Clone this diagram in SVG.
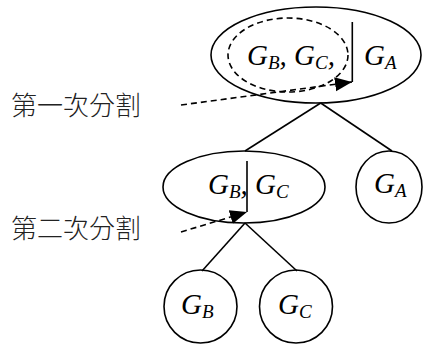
<svg xmlns="http://www.w3.org/2000/svg" width="423" height="345" viewBox="0 0 423 345">
  <style>
    .shape { fill: none; stroke: #000; stroke-width: 1.6; }
    .dash { fill: none; stroke: #000; stroke-width: 1.6; stroke-dasharray: 6 4; }
    .edge { fill: none; stroke: #000; stroke-width: 1.6; }
    .math { font-family: "Liberation Serif", "Times New Roman", serif; font-style: italic; font-size: 29px; fill: #000; }
    .sub { font-size: 19px; }
    .label { font-family: "Liberation Sans", "Noto Sans CJK TC", "Noto Sans CJK SC", sans-serif; font-size: 26px; font-weight: 300; fill: #222; }
  </style>
  <defs>
    <marker id="tri" markerUnits="userSpaceOnUse" markerWidth="18" markerHeight="16" refX="17" refY="8" orient="auto">
      <path d="M0,1 L17,8 L0,15 Z" fill="#000"/>
    </marker>
  </defs>

  <!-- tree edges -->
  <g id="edges">
    <line class="edge" x1="320.7" y1="103" x2="245" y2="151"/>
    <line class="edge" x1="320.7" y1="103" x2="392" y2="151"/>
    <line class="edge" x1="245" y1="223" x2="202" y2="271"/>
    <line class="edge" x1="245" y1="223" x2="297" y2="271"/>
  </g>

  <!-- root: {G_B, G_C, | G_A} -->
  <g id="root">
    <ellipse class="shape" cx="316" cy="55" rx="105" ry="48"/>
    <ellipse class="dash" cx="288" cy="55" rx="60" ry="37"/>
    <line class="edge" x1="352.3" y1="22" x2="352.3" y2="82"/>
    <text class="math" x="247" y="64.5">G<tspan class="sub" dy="4">B</tspan><tspan dy="-4">, G</tspan><tspan class="sub" dy="4">C</tspan><tspan dy="-4">,</tspan></text>
    <text class="math" x="364" y="64.5">G<tspan class="sub" dy="4">A</tspan></text>
  </g>

  <!-- second level: {G_B, | G_C} -->
  <g id="node-bc">
    <ellipse class="shape" cx="244" cy="187" rx="81" ry="36"/>
    <line class="edge" x1="247" y1="161" x2="247" y2="212"/>
    <text class="math" x="208" y="194">G<tspan class="sub" dy="4">B</tspan><tspan dy="-4">,</tspan></text>
    <text class="math" x="255" y="194">G<tspan class="sub" dy="4">C</tspan></text>
  </g>

  <g id="leaf-a">
    <ellipse class="shape" cx="389" cy="187" rx="33" ry="36"/>
    <text class="math" x="374" y="193">G<tspan class="sub" dy="4">A</tspan></text>
  </g>

  <g id="leaf-b">
    <circle class="shape" cx="200.5" cy="306.5" r="36.5"/>
    <text class="math" x="181" y="314">G<tspan class="sub" dy="4">B</tspan></text>
  </g>

  <g id="leaf-c">
    <circle class="shape" cx="296" cy="306.5" r="36.5"/>
    <text class="math" x="278" y="314">G<tspan class="sub" dy="4">C</tspan></text>
  </g>

  <!-- split annotations -->
  <g id="split-1">
    <text class="label" x="11" y="115">第一次分割</text>
    <line class="dash" x1="181" y1="105" x2="352" y2="82" marker-end="url(#tri)"/>
  </g>
  <g id="split-2">
    <text class="label" x="11" y="238">第二次分割</text>
    <line class="dash" x1="181" y1="232" x2="247" y2="212" marker-end="url(#tri)"/>
  </g>
</svg>
